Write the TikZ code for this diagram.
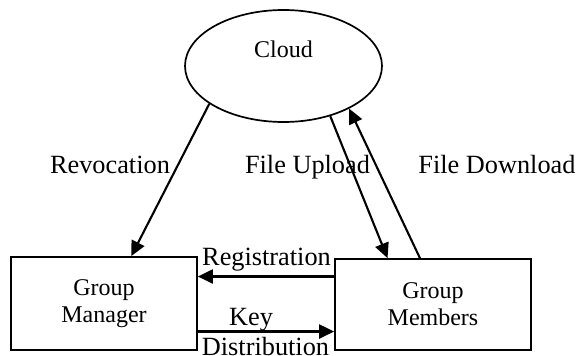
\documentclass[tikz,border=0pt]{standalone}
\usepackage{fontspec}
\setmainfont{Liberation Serif}
\usetikzlibrary{shapes.geometric,arrows.meta,calc}

\tikzset{
  boxtext/.style={font=\fontsize{24}{27}\selectfont},
  labeltext/.style={font=\fontsize{26.3}{30}\selectfont, anchor=base, inner sep=0pt},
  cloudshape/.style={ellipse, draw, line width=1.7pt, minimum width=197pt,
    minimum height=112pt, inner sep=0pt},
  entity/.style={rectangle, draw, line width=1.7pt, align=center, boxtext},
  flow/.style={line width=2.1pt, -{Triangle[length=15pt,width=14pt]}}
}

\begin{document}
\begin{tikzpicture}[x=1pt, y=-1pt]
  \useasboundingbox (0,0) rectangle (579,356);

  % entities
  \node[cloudshape] (cloud) at (283.5,66) {};
  \node[boxtext, anchor=base] (cloudname) at (283.5,57) {Cloud};
  \node[entity, minimum width=186pt, minimum height=93pt] (gm) at (104,303.5)
    {Group\\Manager};
  \node[entity, minimum width=196pt, minimum height=91pt] (gmem) at (433,304.5)
    {Group\\Members};

  % attachment points on the box edges
  \coordinate (revend) at ($(gm.north west)!0.645!(gm.north east)$);
  \coordinate (upend) at ($(gmem.north west)!0.27!(gmem.north east)$);
  \coordinate (downstart) at ($(gmem.north west)!0.434!(gmem.north east)$);
  \coordinate (regstart) at ($(gmem.north west)!0.198!(gmem.south west)$);
  \coordinate (keystart) at ($(gm.north east)!0.796!(gm.south east)$);

  % flows
  \draw[flow] (cloud.207) -- (revend);
  \draw[flow] (cloud.313) -- (upend);
  \draw[flow] (downstart) -- (cloud.327.7);
  \draw[flow] (regstart) -- (regstart -| gm.east);
  \draw[flow] (keystart) -- (keystart -| gmem.west);

  % flow labels
  \node[labeltext] (lrev) at (110,173) {Revocation};
  \node[labeltext] (lup) at (307.5,173) {File Upload};
  \node[labeltext] (ldown) at (497,173) {File Download};
  \node[labeltext] (lreg) at (266.5,265) {Registration};
  \node[labeltext] (lkey) at (251,325) {Key};
  \node[labeltext] (ldist) at (265.5,355) {Distribution};
\end{tikzpicture}
\end{document}
